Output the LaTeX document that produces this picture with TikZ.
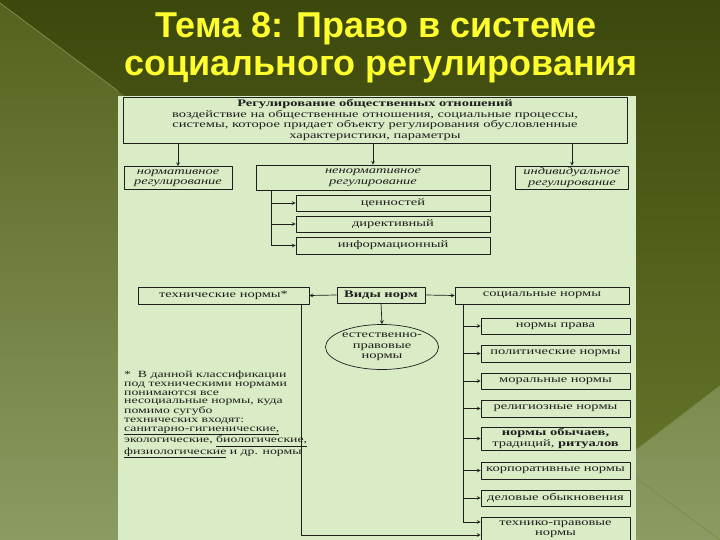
\documentclass[tikz,border=0pt]{standalone}
\usepackage{fontspec}
\setmainfont{Liberation Serif}
\newfontfamily\titlefont{Liberation Sans}
\newfontfamily\scanfont[FakeStretch=1.45]{Liberation Serif}
\usetikzlibrary{shapes.geometric}
\definecolor{bgdark}{RGB}{60,72,12}
\definecolor{bgmid}{RGB}{98,114,40}
\definecolor{bgtop}{RGB}{84,98,30}
\definecolor{bgbot}{RGB}{140,155,98}
\definecolor{bgline}{RGB}{125,140,70}
\definecolor{panel}{RGB}{217,236,197}
\definecolor{ink}{RGB}{30,30,30}
\definecolor{titleyellow}{RGB}{255,255,45}
\tikzset{
  title/.style={text=titleyellow,font=\titlefont\bfseries\fontsize{36}{38}\selectfont,inner sep=0pt},
  box/.style={draw=ink,line width=0.7pt,minimum height=16pt,inner sep=1pt,align=center,text=ink},
  ital/.style={box,font=\scanfont\fontsize{10}{10.5}\selectfont\itshape},
  sub/.style={box,minimum width=194pt},
  kind/.style={box,minimum width=149pt},
  note/.style={text=ink,align=left,inner sep=0pt,font=\scanfont\fontsize{9.5}{8.7}\selectfont}
}
\begin{document}
\begin{tikzpicture}[x=1pt,y=-1pt,>=stealth,line join=round,font=\scanfont\fontsize{10}{10.5}\selectfont]
\useasboundingbox (0,0) rectangle (720,540);
% background
\shade[top color=bgtop,bottom color=bgbot] (0,0) rectangle (720,540);
\shade[top color=bgdark,bottom color=bgmid] (0,0) -- (0,3) -- (118,91) -- (636,450) -- (720,386) -- (720,0) -- cycle;
\draw[bgline,line width=0.8pt] (0,3) -- (118,91) (720,386) -- (636,450) (636,478) -- (720,540);
\node[title,anchor=base] (t1) at (376,38) {Тема 8: Право в системе};
\node[title,anchor=base] (t2) at (381,76) {социального регулирования};
\fill[panel] (118,96) rectangle (636,540);
% upper scheme
\node[box,minimum width=504pt,minimum height=46pt] (reg) at (375,120) {\textbf{Регулирование общественных отношений}\\воздействие на общественные отношения, социальные процессы,\\системы, которое придает объекту регулирования обусловленные\\характеристики, параметры};
\node[ital,minimum width=108pt,minimum height=23pt] (norm) at (178,178) {нормативное\\регулирование};
\node[ital,minimum width=234pt,minimum height=25pt] (nenorm) at (373,177.5) {ненормативное\\регулирование};
\node[ital,minimum width=113pt,minimum height=23pt] (indiv) at (572,177.5) {индивидуальное\\регулирование};
\foreach \n in {norm,nenorm,indiv} \draw[ink,line width=0.7pt,->] (reg.south -| \n.north) -- (\n.north);
\node[sub] (cen) at (393,203) {ценностей};
\node[sub] (dir) at (393,224) {директивный};
\node[sub,minimum height=17pt] (inf) at (393,245.5) {информационный};
\coordinate (nb) at (271,190);
\draw[ink,line width=0.7pt] (nb) -- (nb |- inf);
\foreach \n in {cen,dir,inf} \draw[ink,line width=0.7pt,->] (nb |- \n) -- (\n.west);
% lower scheme
\node[box,font=\scanfont\fontsize{10}{10.5}\selectfont\bfseries,minimum width=88pt] (vidy) at (381,295) {Виды норм};
\node[box,minimum width=171pt,minimum height=17pt] (tech) at (223.5,295.5) {технические нормы*};
\node[box,minimum width=174pt,minimum height=17pt] (soc) at (542,295.5) {социальные нормы};
\node[draw=ink,line width=0.7pt,ellipse,minimum width=108pt,minimum height=45pt,inner sep=0pt,align=center,text=ink] (ell) at (382,347) {естественно-\\правовые\\нормы};
\draw[ink,line width=0.7pt,->] (vidy.west) -- (tech.east);
\draw[ink,line width=0.7pt,->] (vidy.east) -- (soc.west);
\draw[ink,line width=0.7pt,->] (vidy.south) -- (ell.north);
\node[kind] (prava) at (555.5,326) {нормы права};
\node[kind,minimum height=17pt] (polit) at (555.5,353.5) {политические нормы};
\node[kind] (moral) at (555.5,381) {моральные нормы};
\node[kind,minimum height=17pt] (relig) at (555.5,408.5) {религиозные нормы};
\node[kind,minimum height=23pt] (obych) at (555.5,438.5) {\textbf{нормы обычаев,}\\традиций, \textbf{ритуалов}};
\node[kind,minimum height=17pt] (korp) at (555.5,470.5) {корпоративные нормы};
\node[kind] (delov) at (555.5,498) {деловые обыкновения};
\node[kind,minimum height=24pt] (tp) at (555.5,529) {технико-правовые\\нормы};
\coordinate (sb) at (463,304);
\coordinate (se) at (463,522);
\draw[ink,line width=0.7pt] (sb) -- (se);
\foreach \n in {prava,polit,moral,relig,obych,korp,delov} \draw[ink,line width=0.7pt,->] (sb |- \n) -- (\n.west);
\draw[ink,line width=0.7pt,->] (se) -- (se -| tp.west);
\coordinate (tb) at (301,535);
\draw[ink,line width=0.7pt,->] (tech.south -| tb) -- (tb) -- (tb -| tp.west);
\node[note,anchor=north west] (fn) at (124,371) {* \ В данной классификации\\под техническими нормами\\понимаются все\\несоциальные нормы, куда\\помимо сугубо\\технических входят:\\\underline{санитарно-гигиенические,}\\экологические, \underline{биологические,}\\\underline{физиологические} и др. нормы};
\end{tikzpicture}
\end{document}
